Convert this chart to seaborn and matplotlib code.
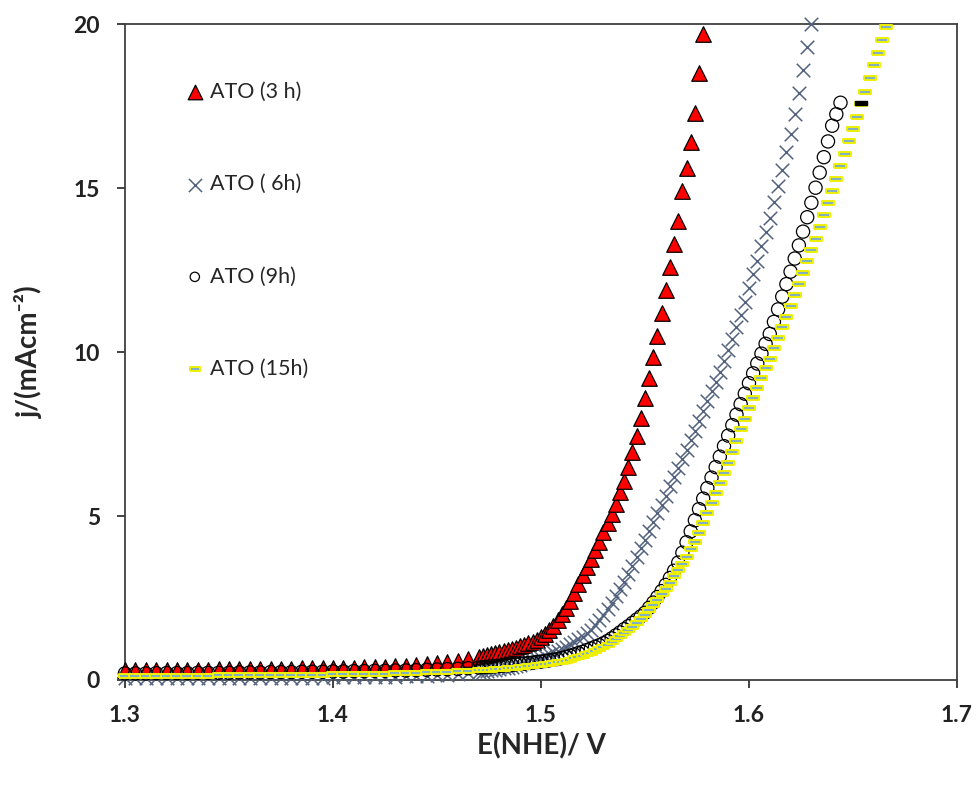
import numpy as np
import pandas as pd
import matplotlib
matplotlib.use("Agg")
import matplotlib.pyplot as plt
import seaborn as sns

# potential grid (V vs NHE): flat part every 5 mV, steep part every 2 mV
E_flat = [1.300, 1.305, 1.310, 1.315, 1.320, 1.325, 1.330, 1.335, 1.340, 1.345,
          1.350, 1.355, 1.360, 1.365, 1.370, 1.375, 1.380, 1.385, 1.390, 1.395,
          1.400, 1.405, 1.410, 1.415, 1.420, 1.425, 1.430, 1.435, 1.440, 1.445,
          1.450, 1.455, 1.460, 1.465]
E_steep = [1.470, 1.472, 1.474, 1.476, 1.478, 1.480, 1.482, 1.484, 1.486, 1.488,
           1.490, 1.492, 1.494, 1.496, 1.498, 1.500, 1.502, 1.504, 1.506, 1.508,
           1.510, 1.512, 1.514, 1.516, 1.518, 1.520, 1.522, 1.524, 1.526, 1.528,
           1.530, 1.532, 1.534, 1.536, 1.538, 1.540, 1.542, 1.544, 1.546, 1.548,
           1.550, 1.552, 1.554, 1.556, 1.558, 1.560, 1.562, 1.564, 1.566, 1.568,
           1.570, 1.572, 1.574, 1.576, 1.578, 1.580, 1.582, 1.584, 1.586, 1.588,
           1.590, 1.592, 1.594, 1.596, 1.598, 1.600, 1.602, 1.604, 1.606, 1.608,
           1.610, 1.612, 1.614, 1.616, 1.618, 1.620, 1.622, 1.624, 1.626, 1.628,
           1.630, 1.632, 1.634, 1.636, 1.638, 1.640, 1.642, 1.644, 1.646, 1.648,
           1.650, 1.652, 1.654, 1.656, 1.658, 1.660, 1.662, 1.664, 1.666]

# current density (mA/cm2)
j3_flat = [0.30, 0.30, 0.30, 0.31, 0.31, 0.31, 0.32, 0.32, 0.32, 0.33,
           0.33, 0.33, 0.34, 0.34, 0.34, 0.35, 0.35, 0.36, 0.36, 0.37,
           0.37, 0.38, 0.38, 0.39, 0.40, 0.41, 0.42, 0.44, 0.46, 0.48,
           0.51, 0.55, 0.59, 0.64]
j3_steep = [0.70, 0.73, 0.76, 0.79, 0.82, 0.85, 0.88, 0.92, 0.95, 0.99,
            1.03, 1.07, 1.12, 1.17, 1.23, 1.30, 1.40, 1.52, 1.66, 1.82,
            2.00, 2.20, 2.42, 2.66, 2.92, 3.20, 3.45, 3.70, 3.95, 4.22,
            4.50, 4.78, 5.06, 5.38, 5.72, 6.08, 6.50, 6.95, 7.45, 8.00,
            8.60, 9.20, 9.85, 10.50, 11.20, 11.90, 12.60, 13.30, 14.00, 14.90,
            15.60, 16.40, 17.30, 18.50, 19.70]

j6_flat = [0.05, 0.05, 0.05, 0.05, 0.05, 0.05, 0.05, 0.05, 0.05, 0.05,
           0.06, 0.06, 0.06, 0.06, 0.06, 0.06, 0.07, 0.07, 0.07, 0.07,
           0.08, 0.08, 0.08, 0.09, 0.09, 0.10, 0.10, 0.11, 0.12, 0.13,
           0.14, 0.16, 0.18, 0.21]
j6_steep = [0.24, 0.25, 0.27, 0.29, 0.31, 0.33, 0.36, 0.38, 0.41, 0.44,
            0.47, 0.51, 0.55, 0.59, 0.63, 0.68, 0.73, 0.78, 0.84, 0.89,
            0.95, 1.02, 1.09, 1.16, 1.24, 1.32, 1.42, 1.53, 1.67, 1.82,
            1.98, 2.16, 2.35, 2.55, 2.77, 3.00, 3.24, 3.49, 3.75, 4.01,
            4.28, 4.55, 4.82, 5.08, 5.35, 5.62, 5.90, 6.18, 6.46, 6.74,
            7.02, 7.31, 7.60, 7.90, 8.20, 8.50, 8.80, 9.10, 9.40, 9.72,
            10.05, 10.40, 10.76, 11.14, 11.54, 11.95, 12.37, 12.79, 13.22, 13.66,
            14.10, 14.57, 15.05, 15.56, 16.10, 16.65, 17.25, 17.90, 18.60, 19.30,
            20.00]

j9_flat = [0.20, 0.20, 0.20, 0.21, 0.21, 0.21, 0.21, 0.22, 0.22, 0.22,
           0.22, 0.23, 0.23, 0.23, 0.24, 0.24, 0.24, 0.25, 0.25, 0.25,
           0.26, 0.26, 0.27, 0.27, 0.28, 0.28, 0.29, 0.29, 0.30, 0.31,
           0.32, 0.33, 0.34, 0.36]
j9_steep = [0.38, 0.39, 0.40, 0.41, 0.42, 0.43, 0.44, 0.45, 0.46, 0.48,
            0.49, 0.50, 0.52, 0.53, 0.55, 0.56, 0.58, 0.60, 0.62, 0.64,
            0.67, 0.70, 0.74, 0.78, 0.82, 0.86, 0.91, 0.96, 1.01, 1.06,
            1.12, 1.19, 1.27, 1.36, 1.45, 1.55, 1.64, 1.74, 1.84, 1.94,
            2.05, 2.20, 2.36, 2.53, 2.71, 2.90, 3.11, 3.33, 3.58, 3.88,
            4.20, 4.53, 4.87, 5.21, 5.53, 5.85, 6.17, 6.49, 6.81, 7.13,
            7.45, 7.77, 8.09, 8.41, 8.73, 9.05, 9.35, 9.65, 9.95, 10.25,
            10.55, 10.92, 11.30, 11.69, 12.07, 12.45, 12.85, 13.25, 13.67, 14.11,
            14.55, 15.01, 15.47, 15.94, 16.42, 16.90, 17.25, 17.60]

j15_flat = [0.12, 0.12, 0.12, 0.12, 0.13, 0.13, 0.13, 0.13, 0.13, 0.14,
            0.14, 0.14, 0.14, 0.15, 0.15, 0.15, 0.15, 0.16, 0.16, 0.16,
            0.17, 0.17, 0.18, 0.18, 0.19, 0.19, 0.20, 0.21, 0.22, 0.23,
            0.24, 0.25, 0.26, 0.28]
j15_steep = [0.30, 0.31, 0.31, 0.32, 0.33, 0.34, 0.35, 0.36, 0.37, 0.38,
             0.39, 0.40, 0.42, 0.43, 0.45, 0.46, 0.48, 0.50, 0.52, 0.54,
             0.56, 0.59, 0.62, 0.66, 0.69, 0.73, 0.78, 0.83, 0.89, 0.94,
             1.00, 1.08, 1.16, 1.24, 1.33, 1.42, 1.52, 1.63, 1.74, 1.86,
             1.98, 2.13, 2.28, 2.44, 2.61, 2.78, 2.97, 3.16, 3.36, 3.55,
             3.75, 3.98, 4.22, 4.49, 4.79, 5.10, 5.40, 5.70, 6.01, 6.32,
             6.63, 6.96, 7.30, 7.64, 7.97, 8.30, 8.60, 8.90, 9.20, 9.50,
             9.80, 10.12, 10.44, 10.76, 11.08, 11.40, 11.74, 12.08, 12.42, 12.76,
             13.10, 13.46, 13.82, 14.18, 14.54, 14.90, 15.28, 15.66, 16.04, 16.42,
             16.80, 17.18, 17.56, 17.94, 18.35, 18.75, 19.13, 19.52, 19.90]

# one stray black point on the 15 h curve
E_odd = [1.654]
j_odd = [17.60]

labels = ["ATO (3 h)", "ATO ( 6h)", "ATO (9h)", "ATO (15h)"]
x_ticks = [1.3, 1.4, 1.5, 1.6, 1.7]
y_ticks = [0, 5, 10, 15, 20]


def make_df(j_flat, j_steep):
    E = E_flat + E_steep[:len(j_steep)]
    return pd.DataFrame({"E": E, "j": j_flat + j_steep})


df3 = make_df(j3_flat, j3_steep)
df6 = make_df(j6_flat, j6_steep)
df9 = make_df(j9_flat, j9_steep)
df15 = make_df(j15_flat, j15_steep)

sns.set_style("white")
plt.rcParams["font.family"] = ["Lato", "DejaVu Sans"]

fig, ax = plt.subplots(figsize=(9.76, 7.93), dpi=100)
fig.subplots_adjust(left=0.128, right=0.9805, bottom=0.1425, top=0.9697)

dash = [(-1, -0.4), (1, -0.4), (1, 0.4), (-1, 0.4), (-1, -0.4)]

sns.scatterplot(data=df3, x="E", y="j", marker="^", s=125, color="#ff0000",
                edgecolor="black", linewidth=0.9, label=labels[0], ax=ax,
                clip_on=False, zorder=3)
sns.scatterplot(data=df6, x="E", y="j", marker="x", s=95, color="#53627f",
                linewidth=1.1, label=labels[1], ax=ax, clip_on=False, zorder=4)
sns.scatterplot(data=df9, x="E", y="j", marker="o", s=90, facecolor="none",
                edgecolor="black", linewidth=0.9, label=labels[2], ax=ax,
                clip_on=False, zorder=5)
sns.scatterplot(data=df15, x="E", y="j", marker=dash, s=65, color="#7fb0c4",
                edgecolor="#f0f000", linewidth=1.4, label=labels[3], ax=ax,
                clip_on=False, zorder=6)
ax.scatter(E_odd, j_odd, marker=dash, s=65, color="black", zorder=7)

ax.set_xlim(1.3, 1.7)
ax.set_ylim(0, 20)
ax.set_xticks(x_ticks)
ax.set_yticks(y_ticks)
ax.set_xticklabels([f"{t:.1f}" for t in x_ticks])
ax.set_yticklabels([str(t) for t in y_ticks])
ax.tick_params(direction="out", length=6, width=1.2, colors="#222222",
               labelsize=16.5, pad=12, bottom=True, left=True)
for lab in ax.get_xticklabels() + ax.get_yticklabels():
    lab.set_fontweight("bold")

for sp in ax.spines.values():
    sp.set_visible(True)
    sp.set_color("#404040")
    sp.set_linewidth(1.3)

ax.set_xlabel("E(NHE)/ V", fontsize=20, fontweight="bold")
ax.set_ylabel("j/(mAcm⁻²)", fontsize=20, fontweight="bold")
ax.xaxis.set_label_coords(0.5, -0.08)
ax.yaxis.set_label_coords(-0.098, 0.5)

leg = ax.legend(loc="upper left", bbox_to_anchor=(0.062, 0.925), frameon=False,
                fontsize=15.5, labelspacing=3.36, handlelength=0.9,
                handletextpad=0.25, borderaxespad=0)
for h, sz in zip(leg.legend_handles, [110, 90, 45, 50]):
    h.set_sizes([sz])

fig.savefig("out.png", dpi=100)
